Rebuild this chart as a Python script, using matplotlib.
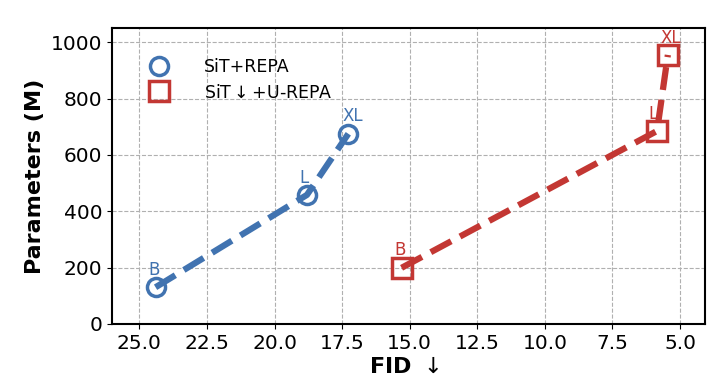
import matplotlib
matplotlib.use("Agg")
import matplotlib.pyplot as plt

sizes = ["B", "L", "XL"]
fid_repa = [24.4, 18.8, 17.27]
params_repa = [130, 458, 675]
fid_urepa = [15.3, 5.85, 5.45]
params_urepa = [199, 685, 955]
xticks = [25.0, 22.5, 20.0, 17.5, 15.0, 12.5, 10.0, 7.5, 5.0]
yticks = [0, 200, 400, 600, 800, 1000]

blue = "#4173b0"
red = "#c33733"

fig = plt.figure(figsize=(7.2, 3.86), dpi=100)
ax = fig.add_axes([0.156, 0.161, 0.823, 0.766])

ax.plot(fid_repa, params_repa, linestyle="--", color=blue, linewidth=4.5, zorder=3)
ax.plot(fid_repa, params_repa, linestyle="none", marker="o", markersize=13,
        markerfacecolor="none", markeredgecolor=blue, markeredgewidth=2.5,
        label="SiT+REPA", zorder=2)
ax.plot(fid_urepa, params_urepa, linestyle="--", color=red, linewidth=4.5, zorder=3)
ax.plot(fid_urepa, params_urepa, linestyle="none", marker="s", markersize=14,
        markerfacecolor="none", markeredgecolor=red, markeredgewidth=2.5,
        label=r"SiT$\downarrow$+U-REPA", zorder=2)

offs_b = [(-1, 6), (-2, 6), (3, 6)]
offs_r = [(-1, 6), (-3, 6), (2, 6)]
for s, x, y, o in zip(sizes, fid_repa, params_repa, offs_b):
    ax.annotate(s, (x, y), xytext=o, textcoords="offset points",
                ha="center", va="bottom", color=blue, fontsize=12)
for s, x, y, o in zip(sizes, fid_urepa, params_urepa, offs_r):
    ax.annotate(s, (x, y), xytext=o, textcoords="offset points",
                ha="center", va="bottom", color=red, fontsize=12)

ax.set_xlim(26.0, 4.08)
ax.set_ylim(0, 1050)
ax.set_xticks(xticks)
ax.set_yticks(yticks)
ax.tick_params(labelsize=14.5)
ax.grid(True, linestyle="--", color="#b0b0b0", linewidth=0.8)
ax.set_axisbelow(True)
for sp in ax.spines.values():
    sp.set_linewidth(1.5)

ax.set_xlabel(r"FID $\downarrow$", fontsize=16, fontweight="bold")
ax.xaxis.set_label_coords(0.492, -0.11)
ax.xaxis.label.set_va("top")
ax.set_ylabel("Parameters (M)", fontsize=16, fontweight="bold")
ax.yaxis.set_label_coords(-0.113, 0.5)

ax.legend(loc="upper left", frameon=False, fontsize=12.5, handletextpad=1.6,
          borderaxespad=1.3, labelspacing=0.45)

fig.savefig("out.png", dpi=100)
